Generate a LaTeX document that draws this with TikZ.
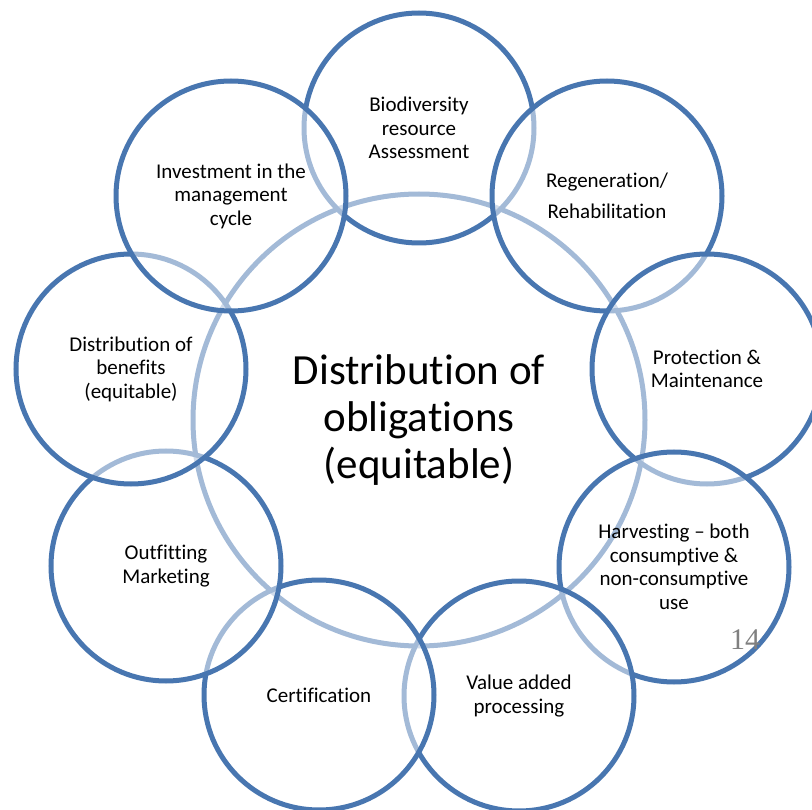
\documentclass[tikz,border=0pt]{standalone}
\usepackage{fontspec}
\setmainfont[Ligatures = NoCommon]{Carlito}
\newfontfamily\slidefont{Liberation Serif}
\definecolor{ringblue}{RGB}{72,118,176}
\definecolor{numgray}{RGB}{128,128,128}

\begin{document}
\begin{tikzpicture}[x = 1pt, y = -1pt,
  ring/.style = {circle, draw = ringblue, line width = 5pt, fill = white, fill opacity = 0.5, text opacity = 1,
    minimum size = 230pt, inner sep = 0pt, align = center, font = \fontsize{21}{23.5}\selectfont},
  hub/.style = {ring, minimum size = 452pt, font = \fontsize{43}{47}\selectfont}]
\clip (0, 0) rectangle (812, 810);
\fill [white] (0, 0) rectangle (812, 810);

% centre circle first, the ring circles go over it
\node (hub) [hub] at (419, 420) {Distribution of\\obligations\\(equitable)};

% ring, clockwise from the top
\node (assess) [ring] at (419, 128) {Biodiversity\\resource\\Assessment};
\node (regen) [ring] at (607, 196) {Regeneration/\\[8pt]Rehabilitation};
\node (protect) [ring] at (707, 369) {Protection \&\\Maintenance};
\node (harvest) [ring] at (674, 567) {Harvesting -- both\\consumptive \&\\non-consumptive\\use};
\node (value) [ring] at (519, 696) {Value added\\processing};
\node (cert) [ring] at (319, 695) {Certification};
\node (outfit) [ring] at (166, 566) {Outfitting\\Marketing};
\node (benefit) [ring] at (131, 369) {Distribution of\\benefits\\(equitable)};
\node (invest) [ring] at (231, 196) {Investment in the\\management\\cycle};

\node (pagenum) [text = numgray, font = \slidefont\fontsize{30}{30}\selectfont] at (745, 640) {14};
\end{tikzpicture}
\end{document}
